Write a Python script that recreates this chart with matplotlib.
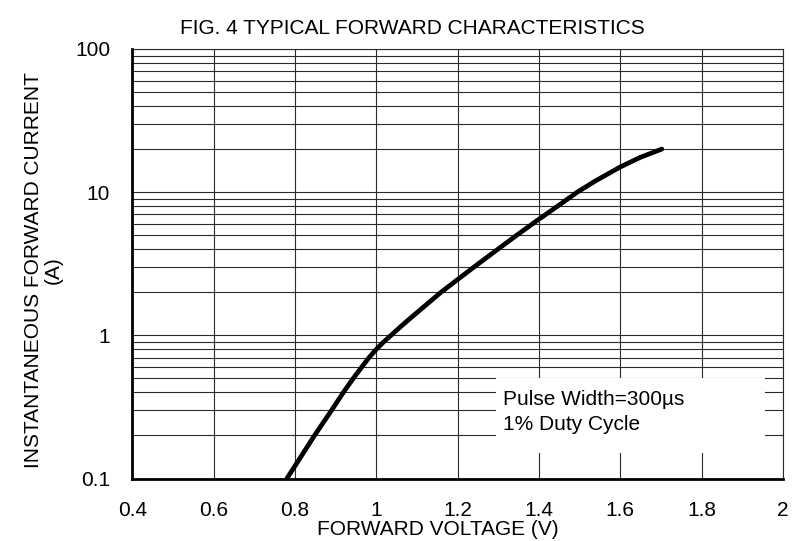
import matplotlib
matplotlib.use('Agg')
import matplotlib.pyplot as plt
from matplotlib.patches import Rectangle
from matplotlib.ticker import LogLocator, FixedLocator, NullFormatter

plt.rcParams['font.family'] = ['Liberation Sans', 'DejaVu Sans']

# curva (V, A)
voltaje = [0.780, 0.848, 0.890, 0.919, 0.943, 0.964, 0.982, 1.000, 1.018, 1.036,
           1.067, 1.107, 1.159, 1.197, 1.240, 1.299, 1.345, 1.393, 1.446, 1.494,
           1.539, 1.600, 1.649, 1.702]
corriente = [0.1, 0.2, 0.3, 0.4, 0.5, 0.6, 0.7, 0.8, 0.9, 1.0,
             1.2, 1.5, 2.0, 2.42, 3.0, 4.0, 5.0, 6.27, 8.0, 10.0,
             12.0, 15.0, 17.5, 20.0]

xticks = [0.4, 0.6, 0.8, 1.0, 1.2, 1.4, 1.6, 1.8, 2.0]
xlabels = ['0.4', '0.6', '0.8', '1', '1.2', '1.4', '1.6', '1.8', '2']
yticks = [0.1, 1, 10, 100]
ylabels = ['0.1', '1', '10', '100']

W, H = 804, 541
fig = plt.figure(figsize=(W/100, H/100), dpi=100)
ax = fig.add_axes([132.4/W, 1-478.5/H, 650.6/W, 429.5/H])

ax.set_yscale('log')
ax.set_xlim(0.4, 2.0)
ax.set_ylim(0.1, 100)

ax.xaxis.set_major_locator(FixedLocator(xticks))
ax.set_xticklabels(xlabels)
ax.yaxis.set_major_locator(FixedLocator(yticks))
ax.set_yticklabels(ylabels)
ax.yaxis.set_minor_locator(LogLocator(base=10, subs=range(2, 10)))
ax.yaxis.set_minor_formatter(NullFormatter())

ax.grid(True, which='major', axis='both', color='#2a2a2a', linewidth=0.8)
ax.grid(True, which='minor', axis='y', color='#2a2a2a', linewidth=0.8)
ax.tick_params(which='both', length=0, labelsize=15)
ax.tick_params(axis='x', pad=16)
ax.tick_params(axis='y', pad=16)

for s in ['top', 'right']:
    ax.spines[s].set_linewidth(0.8)
    ax.spines[s].set_color('#2a2a2a')
for s in ['left', 'bottom']:
    ax.spines[s].set_linewidth(2.0)

ax.plot(voltaje, corriente, color='black', linewidth=3.4,
        solid_capstyle='round', solid_joinstyle='round', zorder=5)

# caja blanca del texto (tapa la rejilla)
ax.add_patch(Rectangle((0.559, 0.0594), 0.413, 0.1746, transform=ax.transAxes,
                       facecolor='white', edgecolor='none', zorder=3))
ax.text(0.5696, 0.171, 'Pulse Width=300µs', transform=ax.transAxes,
        fontsize=15, va='baseline', zorder=4)
ax.text(0.5696, 0.113, '1% Duty Cycle', transform=ax.transAxes,
        fontsize=15, va='baseline', zorder=4)

fig.text(412/W, 1-34/H, 'FIG. 4 TYPICAL FORWARD CHARACTERISTICS',
         ha='center', va='baseline', fontsize=15)
fig.text(438/W, 1-535/H, 'FORWARD VOLTAGE (V)', ha='center', va='baseline', fontsize=15)
fig.text(39/W, 1-270/H, 'INSTANTANEOUS FORWARD CURRENT', ha='center', va='baseline',
         rotation=90, rotation_mode='anchor', fontsize=15)
fig.text(59/W, 1-270/H, '(A)', ha='center', va='baseline',
         rotation=90, rotation_mode='anchor', fontsize=15)

fig.savefig('out.png', dpi=100)
